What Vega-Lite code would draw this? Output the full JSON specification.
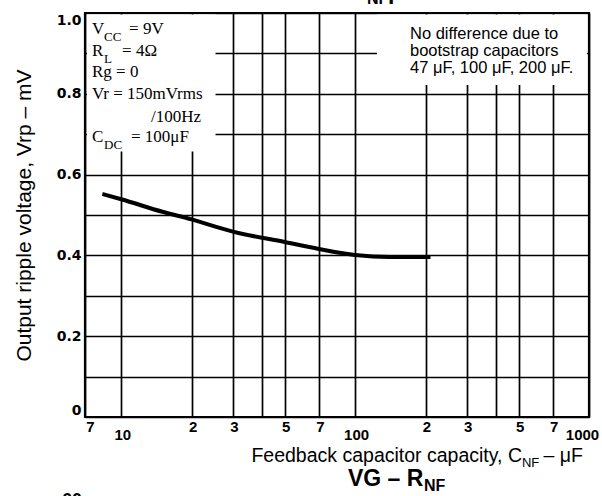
{
  "$schema": "https://vega.github.io/schema/vega-lite/v6.json",
  "width": 504,
  "height": 404,
  "autosize": {"type": "none"},
  "padding": {"left": 85, "top": 13, "right": 13, "bottom": 79},
  "background": "white",
  "config": {
    "view": {"stroke": "black", "strokeWidth": 2.2},
    "axis": {"gridColor": "black", "gridOpacity": 1, "gridWidth": 1.7, "domain": false, "ticks": false, "tickSize": 0, "labelColor": "black", "labelOverlap": false, "labelBound": false}
  },
  "datasets": {
    "curve": [
      {"c": 8.3, "v": 0.552},
      {"c": 10, "v": 0.539},
      {"c": 15, "v": 0.508},
      {"c": 20, "v": 0.489},
      {"c": 30, "v": 0.459},
      {"c": 50, "v": 0.433},
      {"c": 70, "v": 0.416},
      {"c": 100, "v": 0.401},
      {"c": 140, "v": 0.396},
      {"c": 210, "v": 0.396}
    ],
    "boxes": [
      {"c": 7.14, "c2": 25.3, "v": 0.657, "v2": 0.996},
      {"c": 124, "c2": 980, "v": 0.822, "v2": 0.996}
    ],
    "condMain": [
      {"c": 7.5, "v": 0.948, "t": "V"},
      {"c": 10.8, "v": 0.948, "t": "= 9V"},
      {"c": 7.5, "v": 0.894, "t": "R"},
      {"c": 10.08, "v": 0.894, "t": "= 4Ω"},
      {"c": 7.5, "v": 0.842, "t": "Rg = 0"},
      {"c": 7.5, "v": 0.787, "t": "Vr = 150mVrms"},
      {"c": 13.41, "v": 0.73, "t": "/100Hz"},
      {"c": 7.5, "v": 0.681, "t": "C"},
      {"c": 11.01, "v": 0.681, "t": "= 100μF"}
    ],
    "condSub": [
      {"c": 8.44, "v": 0.931, "t": "CC"},
      {"c": 8.44, "v": 0.876, "t": "L"},
      {"c": 8.44, "v": 0.663, "t": "DC"}
    ],
    "note": [
      {"c": 171.6, "v": 0.9356, "t": "No difference due to"},
      {"c": 171.6, "v": 0.8936, "t": "bootstrap capacitors"},
      {"c": 171.6, "v": 0.8515, "t": "47 μF, 100 μF, 200 μF."}
    ],
    "xTitleMain": [
      {"c": 517.1, "v": -0.1114, "t": "Feedback capacitor capacity, C"},
      {"c": 942.5, "v": -0.1114, "t": " – μF"}
    ],
    "xTitleSub": [
      {"c": 613.1, "v": -0.1238, "t": "NF"}
    ],
    "bottomMain": [
      {"c": 93.2, "v": -0.1708, "t": "VG – R"},
      {"c": 110.2, "v": 1.0347, "t": "Vrp – C"}
    ],
    "bottomSub": [
      {"c": 197.0, "v": -0.1832, "t": "NF"},
      {"c": 112.4, "v": 1.0223, "t": "NF"}
    ],
    "page": [
      {"c": 6.16, "v": -0.1856, "t": "60"}
    ]
  },
  "encoding": {
    "x": {
      "field": "c",
      "type": "quantitative",
      "scale": {"type": "log", "domain": [7, 1000], "nice": false},
      "axis": {
        "title": null,
        "grid": true,
        "values": [7, 10, 20, 30, 40, 50, 70, 100, 200, 300, 400, 500, 700, 1000],
        "labelExpr": "datum.value==40||datum.value==400 ? '' : (datum.value==10||datum.value==100||datum.value==1000 ? format(datum.value,'d') : (datum.value<10 ? '7' : (datum.value<100 ? format(datum.value/10,'d') : format(datum.value/100,'d'))))",
        "labelFont": "Liberation Sans",
        "labelFontWeight": "bold",
        "labelFontSize": 15,
        "labelFlush": false,
        "labelOffset": {"condition": [{"test": "datum.value==7", "value": 5}, {"test": "datum.value==1000", "value": -7}], "value": 1},
        "labelPadding": {"condition": {"test": "datum.value==10||datum.value==100||datum.value==1000", "value": 10}, "value": 2}
      }
    },
    "y": {
      "field": "v",
      "type": "quantitative",
      "scale": {"domain": [0, 1], "nice": false, "zero": false},
      "axis": {
        "title": "Output ripple voltage, Vrp – mV",
        "titleFont": "Liberation Sans",
        "titleFontSize": 21,
        "titleFontWeight": "normal",
        "titleColor": "black",
        "titlePadding": 22,
        "grid": true,
        "values": [0, 0.1, 0.2, 0.3, 0.4, 0.5, 0.6, 0.7, 0.8, 0.9, 1.0],
        "labelExpr": "round(datum.value*10) % 2 == 0 ? (datum.value == 0 ? '0' : format(datum.value, '.1f')) : ''",
        "labelFont": "DejaVu Sans",
        "labelFontWeight": "bold",
        "labelFontSize": 14,
        "labelFlush": true,
        "labelPadding": 4
      }
    }
  },
  "layer": [
    {
      "data": {"name": "boxes"},
      "mark": {"type": "rect", "color": "white"},
      "encoding": {"x2": {"field": "c2"}, "y2": {"field": "v2"}}
    },
    {
      "data": {"name": "curve"},
      "mark": {"type": "line", "color": "black", "strokeWidth": 4, "interpolate": "monotone"},
      "encoding": {}
    },
    {
      "data": {"name": "condMain"},
      "mark": {"type": "text", "align": "left", "baseline": "alphabetic", "font": "Liberation Serif", "fontSize": 17, "color": "black"},
      "encoding": {"text": {"field": "t"}}
    },
    {
      "data": {"name": "condSub"},
      "mark": {"type": "text", "align": "left", "baseline": "alphabetic", "font": "Liberation Serif", "fontSize": 13, "color": "black"},
      "encoding": {"text": {"field": "t"}}
    },
    {
      "data": {"name": "note"},
      "mark": {"type": "text", "align": "left", "baseline": "alphabetic", "font": "Liberation Sans", "fontSize": 16.5, "color": "black"},
      "encoding": {"text": {"field": "t"}}
    },
    {
      "data": {"name": "xTitleMain"},
      "mark": {"type": "text", "align": "right", "baseline": "alphabetic", "font": "Liberation Sans", "fontSize": 19.5, "color": "black"},
      "encoding": {"text": {"field": "t"}}
    },
    {
      "data": {"name": "xTitleSub"},
      "mark": {"type": "text", "align": "right", "baseline": "alphabetic", "font": "Liberation Sans", "fontSize": 13, "color": "black"},
      "encoding": {"text": {"field": "t"}}
    },
    {
      "data": {"name": "bottomMain"},
      "mark": {"type": "text", "align": "left", "baseline": "alphabetic", "font": "Liberation Sans", "fontWeight": "bold", "fontSize": 23, "color": "black"},
      "encoding": {"text": {"field": "t"}}
    },
    {
      "data": {"name": "bottomSub"},
      "mark": {"type": "text", "align": "left", "baseline": "alphabetic", "font": "Liberation Sans", "fontWeight": "bold", "fontSize": 16, "color": "black"},
      "encoding": {"text": {"field": "t"}}
    },
    {
      "data": {"name": "page"},
      "mark": {"type": "text", "align": "center", "baseline": "top", "font": "Liberation Sans", "fontWeight": "bold", "fontSize": 18, "color": "black"},
      "encoding": {"text": {"field": "t"}}
    }
  ]
}
